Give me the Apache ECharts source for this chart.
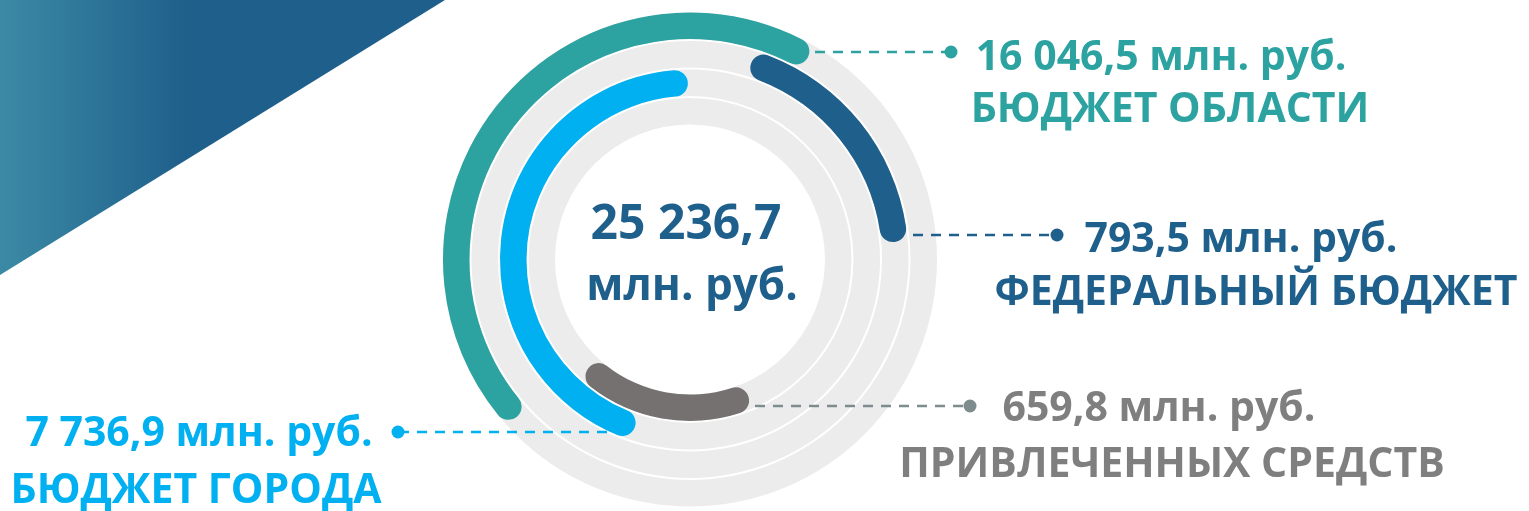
<!DOCTYPE html>
<html>
<head>
<meta charset="utf-8">
<script src="https://cdn.jsdelivr.net/npm/echarts@6/dist/echarts.min.js"></script>
<style>
  html, body { margin: 0; padding: 0; background: #fff; }
  #chart { width: 1529px; height: 511px; }
</style>
</head>
<body>
<div id="chart"></div>
<script>
// источники финансирования, от внутреннего кольца к внешнему
var categories = ['Привлеченных средств', 'Бюджет города', 'Федеральный бюджет', 'Бюджет области'];
var amounts = [659.8, 7736.9, 793.5, 16046.5];
// дуги на кольцах (градусы, против часовой от 3 часов) - как на слайде
var arcStart = [232, 95, 8.6, 63];
var arcEnd = [288, 247.5, 69, 219];

var colors = ['#767171', '#00b0f0', '#1f5f8b', '#2ca3a0'];
var textColors = ['#7f7f7f', '#00b0f0', '#1f5f8b', '#2ca3a0'];
var dotColors = ['#7f8c8d', '#00b0f0', '#1f5f8b', '#2ca3a0'];

// подписи: центры строк, линия-выноска
var labelLayout = [
  { c1: 1159, y1: 409, c2: 1172, y2: 465, from: [755, 406], dot: [970, 406] },
  { c1: 199, y1: 434, c2: 196, y2: 491, from: [607, 432], dot: [398, 432] },
  { c1: 1241, y1: 240, c2: 1256, y2: 293, from: [913, 235], dot: [1057, 235] },
  { c1: 1161, y1: 58, c2: 1170, y2: 110, from: [815, 52], dot: [951, 52] }
];

function fmt(v) {
  var s = v.toFixed(1).split('.');
  return s[0].replace(/\B(?=(\d{3})+(?!\d))/g, ' ') + ',' + s[1];
}

var total = amounts.reduce(function (a, b) { return a + b; }, 0);

var chart = echarts.init(document.getElementById('chart'));

var graphic = [
  {
    type: 'polygon',
    shape: { points: [[0, 0], [445, 0], [0, 275]] },
    style: {
      fill: {
        type: 'linear', x: 0, y: 0, x2: 1, y2: 0,
        colorStops: [
          { offset: 0, color: '#3b8aa5' },
          { offset: 0.42, color: '#1f5f8b' },
          { offset: 1, color: '#1f5f8b' }
        ]
      }
    },
    z: 0
  },
  {
    type: 'text', x: 686, y: 225, z: 100,
    style: { text: fmt(total), fill: '#1f5f8b', font: 'bold 48px "Open Sans"',
      align: 'center', textAlign: 'center', verticalAlign: 'middle', textVerticalAlign: 'middle' }
  },
  {
    type: 'text', x: 692, y: 287, z: 100,
    style: { text: 'млн. руб.', fill: '#1f5f8b', font: 'bold 44px "Open Sans"',
      align: 'center', textAlign: 'center', verticalAlign: 'middle', textVerticalAlign: 'middle' }
  }
];

labelLayout.forEach(function (l, i) {
  graphic.push({
    type: 'line', z: 100,
    shape: { x1: l.from[0], y1: l.from[1], x2: l.dot[0], y2: l.dot[1] },
    style: { stroke: dotColors[i], lineWidth: 2.5, lineDash: [10, 8] }
  });
  graphic.push({
    type: 'circle', z: 101,
    shape: { cx: l.dot[0], cy: l.dot[1], r: 6.5 },
    style: { fill: dotColors[i] }
  });
  graphic.push({
    type: 'text', x: l.c1, y: l.y1, z: 100,
    style: { text: fmt(amounts[i]) + ' млн. руб.', fill: textColors[i], font: 'bold 41px "Open Sans"',
      align: 'center', textAlign: 'center', verticalAlign: 'middle', textVerticalAlign: 'middle' }
  });
  graphic.push({
    type: 'text', x: l.c2, y: l.y2, z: 100,
    style: { text: categories[i].toUpperCase(), fill: textColors[i], font: 'bold 41px "Open Sans"',
      align: 'center', textAlign: 'center', verticalAlign: 'middle', textVerticalAlign: 'middle' }
  });
});

var option = {
  animation: false,
  polar: { center: [690, 259.5], radius: [134, 248] },
  angleAxis: { type: 'value', min: 0, max: 360, startAngle: 0, clockwise: false, show: false },
  radiusAxis: { type: 'category', data: categories, show: false },
  series: [
    {
      name: 'фон', type: 'bar', coordinateSystem: 'polar',
      data: categories.map(function () { return 360; }),
      barGap: '-100%', barCategoryGap: '7%',
      itemStyle: { color: '#ececec' }, silent: true, z: 1
    },
    {
      name: 'отступ', type: 'bar', coordinateSystem: 'polar', stack: 'arc',
      data: arcStart,
      barGap: '-100%', barCategoryGap: '7%',
      itemStyle: { color: 'rgba(0,0,0,0)' }, silent: true, z: 2
    },
    {
      name: 'дуга', type: 'bar', coordinateSystem: 'polar', stack: 'arc', roundCap: true,
      data: arcEnd.map(function (e, i) {
        return { value: e - arcStart[i], itemStyle: { color: colors[i] } };
      }),
      barGap: '-100%', barCategoryGap: '7%', z: 3
    }
  ],
  graphic: graphic
};

chart.setOption(option);
</script>
</body>
</html>
